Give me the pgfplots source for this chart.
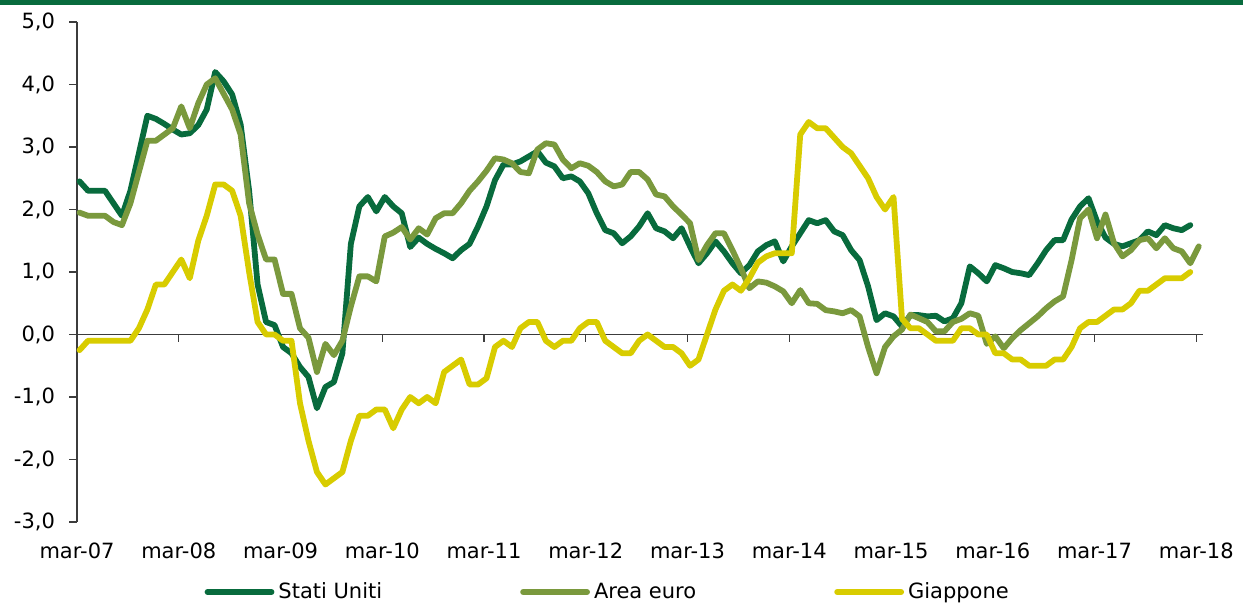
\documentclass[border=0pt]{standalone}
\usepackage{fontspec}
\setmainfont{DejaVu Sans}
\usepackage{pgfplots}
\usepackage{pgfplotstable}
\pgfplotsset{compat=1.18}
\definecolor{usgreen}{RGB}{8,107,61}
\definecolor{eaolive}{RGB}{122,153,61}
\definecolor{jpyellow}{RGB}{216,204,0}
\definecolor{axisgrey}{RGB}{60,60,60}

\pgfplotstableread{
m us ea jp
0 2.45 1.95 -0.25
1 2.3 1.9 -0.1
2 2.3 1.9 -0.1
3 2.3 1.9 -0.1
4 2.1 1.8 -0.1
5 1.9 1.75 -0.1
6 2.3 2.1 -0.1
7 2.9 2.6 0.1
8 3.5 3.1 0.4
9 3.45 3.1 0.8
10 3.37 3.2 0.8
11 3.28 3.3 1.0
12 3.2 3.65 1.2
13 3.22 3.3 0.9
14 3.35 3.7 1.5
15 3.6 4.0 1.9
16 4.2 4.1 2.4
17 4.05 3.85 2.4
18 3.84 3.6 2.3
19 3.36 3.2 1.9
20 2.3 2.1 1.0
21 0.8 1.6 0.2
22 0.2 1.2 0.0
23 0.15 1.2 0.0
24 -0.2 0.65 -0.1
25 -0.3 0.65 -0.1
26 -0.52 0.1 -1.1
27 -0.68 -0.05 -1.7
28 -1.18 -0.6 -2.2
29 -0.84 -0.15 -2.4
30 -0.76 -0.33 -2.3
31 -0.3 -0.1 -2.2
32 1.45 0.45 -1.7
33 2.05 0.93 -1.3
34 2.2 0.93 -1.3
35 1.97 0.85 -1.2
36 2.2 1.57 -1.2
37 2.05 1.63 -1.5
38 1.94 1.72 -1.2
39 1.4 1.52 -1.0
40 1.55 1.7 -1.1
41 1.45 1.6 -1.0
42 1.37 1.86 -1.1
43 1.3 1.94 -0.6
44 1.22 1.94 -0.5
45 1.35 2.1 -0.4
46 1.45 2.3 -0.8
47 1.73 2.45 -0.8
48 2.05 2.62 -0.7
49 2.47 2.82 -0.2
50 2.72 2.8 -0.1
51 2.72 2.74 -0.2
52 2.77 2.6 0.1
53 2.85 2.58 0.2
54 2.93 2.96 0.2
55 2.75 3.06 -0.1
56 2.69 3.04 -0.2
57 2.5 2.8 -0.1
58 2.53 2.66 -0.1
59 2.45 2.74 0.1
60 2.26 2.7 0.2
61 1.94 2.6 0.2
62 1.67 2.45 -0.1
63 1.62 2.37 -0.2
64 1.46 2.4 -0.3
65 1.57 2.6 -0.3
66 1.73 2.6 -0.1
67 1.94 2.48 0.0
68 1.7 2.24 -0.1
69 1.65 2.21 -0.2
70 1.54 2.05 -0.2
71 1.7 1.92 -0.3
72 1.41 1.78 -0.5
73 1.14 1.19 -0.4
74 1.3 1.43 0.0
75 1.49 1.62 0.4
76 1.33 1.62 0.7
77 1.14 1.35 0.8
78 0.98 1.06 0.7
79 1.11 0.74 0.9
80 1.33 0.85 1.15
81 1.43 0.83 1.25
82 1.49 0.77 1.3
83 1.17 0.69 1.3
84 1.41 0.5 1.3
85 1.62 0.71 3.2
86 1.83 0.5 3.4
87 1.78 0.49 3.3
88 1.83 0.39 3.3
89 1.65 0.37 3.15
90 1.59 0.34 3.0
91 1.35 0.39 2.9
92 1.19 0.29 2.7
93 0.77 -0.2 2.5
94 0.23 -0.62 2.2
95 0.34 -0.2 2.0
96 0.29 -0.03 2.2
97 0.13 0.08 0.25
98 0.31 0.32 0.1
99 0.31 0.26 0.1
100 0.29 0.2 0.0
101 0.3 0.05 -0.1
102 0.21 0.05 -0.1
103 0.26 0.2 -0.1
104 0.5 0.25 0.1
105 1.09 0.34 0.1
106 0.98 0.3 0.0
107 0.85 -0.15 0.0
108 1.11 -0.03 -0.3
109 1.06 -0.22 -0.3
110 1.0 -0.06 -0.4
111 0.98 0.07 -0.4
112 0.95 0.18 -0.5
113 1.14 0.29 -0.5
114 1.35 0.42 -0.5
115 1.51 0.53 -0.4
116 1.51 0.61 -0.4
117 1.84 1.19 -0.2
118 2.05 1.86 0.1
119 2.18 2.0 0.2
120 1.81 1.54 0.2
121 1.55 1.92 0.3
122 1.45 1.46 0.4
123 1.41 1.25 0.4
124 1.46 1.35 0.5
125 1.51 1.51 0.7
126 1.65 1.54 0.7
127 1.59 1.38 0.8
128 1.75 1.54 0.9
129 1.7 1.38 0.9
130 1.67 1.33 0.9
131 1.75 1.14 1.0
132 nan 1.41 nan
}\datatable

\begin{document}
\begin{tikzpicture}
\path[use as bounding box] (-38.5pt,-40pt) rectangle (583pt,261pt);
\fill[usgreen] (-38.5pt,258.5pt) rectangle (583pt,261pt);
\begin{axis}[
  at={(0,0)}, anchor=south west,
  scale only axis, width=563pt, height=250pt,
  xmin=-0.3, xmax=132.5, ymin=-3, ymax=5,
  axis y line*=left, axis x line*=bottom,
  x axis line style={draw=none},
  y axis line style={draw=axisgrey, line width=0.6pt, -},
  xtick={-0.3,11.7,23.7,35.7,47.7,59.7,71.7,83.7,95.7,107.7,119.7,131.7},
  xticklabels={mar-07,mar-08,mar-09,mar-10,mar-11,mar-12,mar-13,mar-14,mar-15,mar-16,mar-17,mar-18},
  x tick style={draw=none},
  ytick={-3,-2,-1,0,1,2,3,4,5},
  y tick style={draw=axisgrey, line width=0.6pt},
  tick align=outside, major tick length=4pt,
  /pgf/number format/assume math mode=true,
  yticklabel style={/pgf/number format/fixed, /pgf/number format/fixed zerofill, /pgf/number format/precision=1, /pgf/number format/use comma, xshift=-3.5pt},
  xticklabel style={yshift=-3pt},
  every tick label/.append style={font=\fontsize{10.5}{12}\selectfont, text=black},
  clip=false,
  legend style={at={(axis description cs:0.113,-0.14)}, anchor=west, draw=none, fill=none,
    legend columns=3, font=\fontsize{10.5}{12}\selectfont, inner sep=0pt,
    /tikz/every even column/.append style={column sep=67pt}},
  legend image code/.code={\draw[#1, line cap=round] (0pt,0pt) -- (32pt,0pt);},
]
\draw[axisgrey, line width=0.6pt] (axis cs:-0.3,0) -- (axis cs:132.5,0);
\pgfplotsinvokeforeach{11.7,23.7,35.7,47.7,59.7,71.7,83.7,95.7,107.7,119.7,131.7}{
  \draw[axisgrey, line width=0.6pt] (axis cs:#1,0) -- ++(0pt,-3.5pt);
}
\addplot[usgreen, line width=2.9pt, line join=round, line cap=round] table[x=m, y=us] {\datatable};
\addlegendentry{Stati Uniti}
\addplot[eaolive, line width=2.9pt, line join=round, line cap=round] table[x=m, y=ea] {\datatable};
\addlegendentry{Area euro}
\addplot[jpyellow, line width=2.9pt, line join=round, line cap=round] table[x=m, y=jp] {\datatable};
\addlegendentry{Giappone}
\end{axis}
\end{tikzpicture}
\end{document}
